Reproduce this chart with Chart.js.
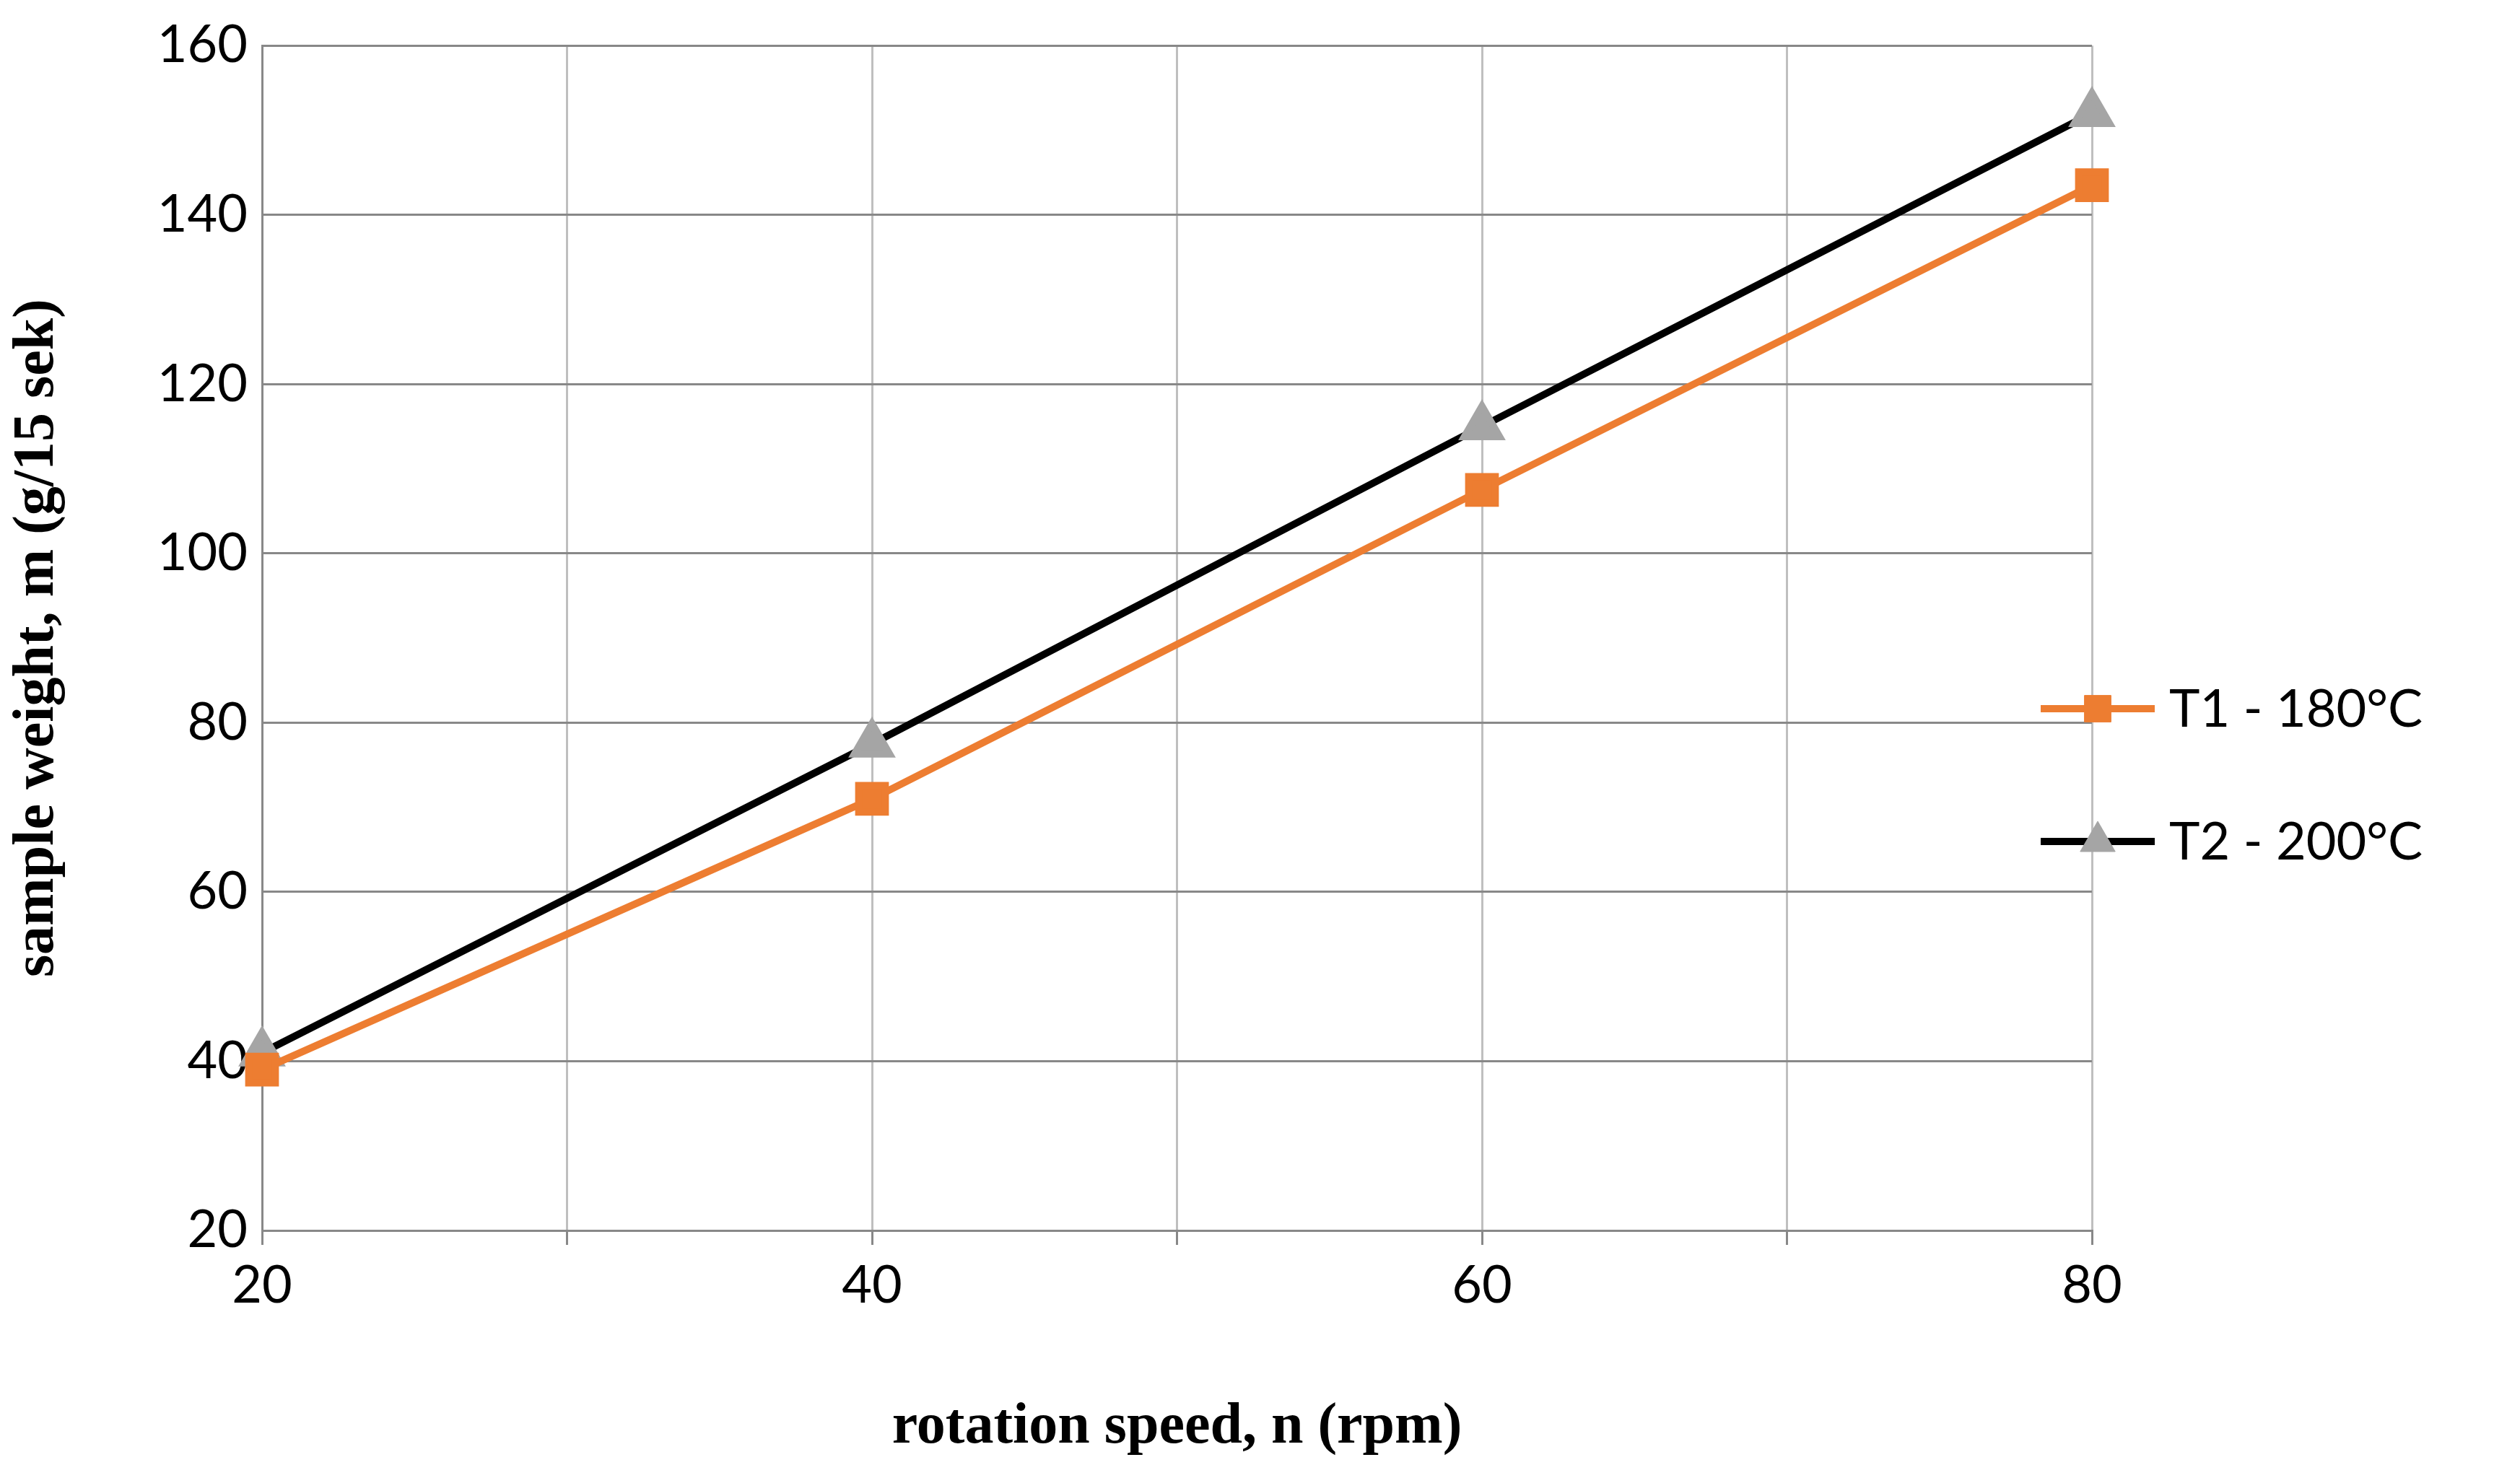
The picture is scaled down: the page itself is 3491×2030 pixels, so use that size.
<!DOCTYPE html>
<html>
<head>
<meta charset="utf-8">
<script src="https://cdn.jsdelivr.net/npm/chart.js@4"></script>
<style>
  html, body { margin: 0; padding: 0; background: #fff; }
  #wrap { width: 3491px; height: 2030px; }
</style>
</head>
<body>
<div id="wrap"><canvas id="chart" width="3491" height="2030"></canvas></div>
<script>
const speeds = [20, 40, 60, 80];
const t1Values = [39, 71, 107.5, 143.5];
const t2Values = [41, 77.5, 115, 152];
const seriesNames = ["T1 - 180°C", "T2 - 200°C"];
const xLabels = [20, 40, 60, 80];

const tickFont = { family: "Lato", size: 72 };
const titleFont = { family: "Liberation Serif", size: 80, weight: "bold" };

// legend drawn at the right, Excel style (line with marker)
const sideLegend = {
  id: "sideLegend",
  afterDraw(chart) {
    const ctx = chart.ctx;
    const rows = [982, 1166];
    chart.data.datasets.forEach((ds, i) => {
      const y = rows[i];
      ctx.save();
      ctx.strokeStyle = ds.borderColor;
      ctx.lineWidth = 10;
      ctx.beginPath();
      ctx.moveTo(2827, y);
      ctx.lineTo(2985, y);
      ctx.stroke();
      ctx.fillStyle = ds.pointBackgroundColor;
      ctx.strokeStyle = ds.pointBorderColor;
      ctx.lineWidth = 1;
      Chart.helpers.drawPoint(ctx, {
        pointStyle: ds.pointStyle, radius: ds.pointRadius,
        borderWidth: 1, rotation: 0
      }, 2906, y);
      ctx.fillStyle = "#000";
      ctx.font = "72px Lato";
      ctx.textBaseline = "middle";
      ctx.fillText(ds.label, 3005, y + 2);
      ctx.restore();
    });
  }
};

new Chart(document.getElementById("chart"), {
  type: "line",
  data: {
    datasets: [
      {
        label: seriesNames[0],
        data: speeds.map((x, i) => ({ x, y: t1Values[i] })),
        borderColor: "#ED7D31",
        borderWidth: 10,
        pointStyle: "rect",
        pointRadius: 26,
        pointBackgroundColor: "#ED7D31",
        pointBorderColor: "#ED7D31",
        clip: false
      },
      {
        label: seriesNames[1],
        data: speeds.map((x, i) => ({ x, y: t2Values[i] })),
        borderColor: "#000000",
        borderWidth: 10,
        pointStyle: "triangle",
        pointRadius: 28,
        pointBackgroundColor: "#A5A5A5",
        pointBorderColor: "#A5A5A5",
        clip: false
      }
    ]
  },
  options: {
    responsive: false,
    animation: false,
    layout: { padding: { top: 62, right: 593, left: 0, bottom: 0 } },
    plugins: { legend: { display: false }, tooltip: { enabled: false } },
    scales: {
      x: {
        type: "linear", min: 20, max: 80,
        afterFit: s => { s.height = 325; },
        ticks: {
          stepSize: 10, color: "#000", font: tickFont, padding: 14,
          callback: v => xLabels.includes(v) ? v : ""
        },
        grid: { color: "#BFBFBF", lineWidth: 3, tickLength: 20, tickColor: "#888" },
        border: { color: "#888", width: 3 },
        title: { display: true, text: "rotation speed, n (rpm)", color: "#000", font: titleFont, padding: { top: 20 } }
      },
      y: {
        min: 20, max: 160,
        afterFit: s => { s.width = 363; },
        ticks: { stepSize: 20, color: "#000", font: tickFont, padding: 20 },
        grid: { color: "#888", lineWidth: 3, tickLength: 0 },
        border: { color: "#888", width: 3 },
        title: { display: true, text: "sample weight, m (g/15 sek)", color: "#000", font: titleFont, padding: { bottom: 0 } }
      }
    }
  },
  plugins: [sideLegend]
});
</script>
</body>
</html>
